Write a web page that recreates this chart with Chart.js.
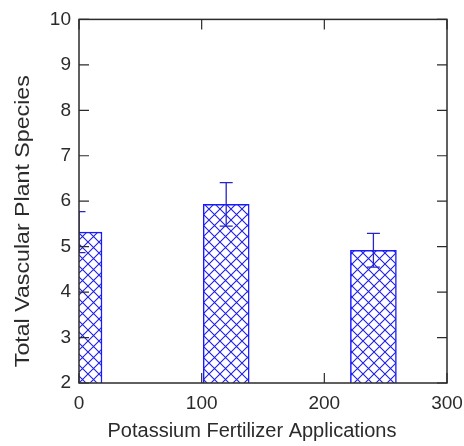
<!DOCTYPE html>
<html>
<head>
<meta charset="utf-8">
<script src="https://cdn.jsdelivr.net/npm/chart.js@4.4.1/dist/chart.umd.min.js"></script>
<style>
  html, body { margin: 0; padding: 0; background: #fff; }
  #wrap { width: 464px; height: 446px; }
</style>
</head>
<body>
<div id="wrap"><canvas id="chart" width="464" height="446"></canvas></div>
<script>
// potassium applications (x) vs species count, with std error
const applications = [0, 120, 240];
const species = [5.32, 5.93, 4.92];
const speciesErr = [0.45, 0.48, 0.37];

const xTitle = "Potassium Fertilizer Applications";
const yTitle = "Total Vascular Plant Species";

const BLUE = "#1a1aff";
const INK = "#2b2b2b";

// cross hatch fill for the bars
function hatch() {
  const c = document.createElement("canvas");
  c.width = 11;
  c.height = 11;
  const g = c.getContext("2d");
  g.fillStyle = "#fff";
  g.fillRect(0, 0, 11, 11);
  g.strokeStyle = "#2020e0";
  g.lineWidth = 1.1;
  g.beginPath();
  g.moveTo(-1, -1); g.lineTo(12, 12);
  g.moveTo(12, -1); g.lineTo(-1, 12);
  g.stroke();
  return g.createPattern(c, "repeat");
}

const frame = {
  id: "frame",
  afterDatasetsDraw(chart) {
    const ctx = chart.ctx;
    const a = chart.chartArea;
    const xs = chart.scales.x, ys = chart.scales.y;
    ctx.save();
    ctx.beginPath();
    ctx.rect(a.left, a.top, a.right - a.left, a.bottom - a.top);
    ctx.clip();
    // error bars
    ctx.strokeStyle = "#2525c8";
    ctx.lineWidth = 1.3;
    applications.forEach((v, i) => {
      const px = xs.getPixelForValue(v);
      const hi = ys.getPixelForValue(species[i] + speciesErr[i]);
      const lo = ys.getPixelForValue(species[i] - speciesErr[i]);
      ctx.beginPath();
      ctx.moveTo(px, hi); ctx.lineTo(px, lo);
      ctx.moveTo(px - 6.5, hi); ctx.lineTo(px + 6.5, hi);
      ctx.moveTo(px - 6.5, lo); ctx.lineTo(px + 6.5, lo);
      ctx.stroke();
    });
    ctx.restore();

    // box and inward ticks
    ctx.save();
    ctx.strokeStyle = INK;
    ctx.lineWidth = 1.5;
    ctx.strokeRect(a.left, a.top, a.right - a.left, a.bottom - a.top);
    ctx.lineWidth = 1.2;
    ctx.beginPath();
    ys.ticks.forEach((t) => {
      const py = ys.getPixelForValue(t.value);
      ctx.moveTo(a.left, py); ctx.lineTo(a.left + 10, py);
      ctx.moveTo(a.right, py); ctx.lineTo(a.right - 10, py);
    });
    xs.ticks.forEach((t) => {
      const px = xs.getPixelForValue(t.value);
      ctx.moveTo(px, a.bottom); ctx.lineTo(px, a.bottom - 10);
      ctx.moveTo(px, a.top); ctx.lineTo(px, a.top + 10);
    });
    ctx.stroke();

    // axis titles
    ctx.fillStyle = INK;
    ctx.font = "20px 'Liberation Sans', Arial, sans-serif";
    ctx.textAlign = "center";
    ctx.textBaseline = "alphabetic";
    ctx.fillText(xTitle, (a.left + a.right) / 2 - 11, 437);
    // y title runs a little longer than the x title
    ctx.translate(29, (a.top + a.bottom) / 2 + 20);
    ctx.rotate(-Math.PI / 2);
    ctx.scale(292 / ctx.measureText(yTitle).width, 1);
    ctx.fillText(yTitle, 0, 0);
    ctx.restore();
  }
};

Chart.defaults.font.family = "'Liberation Sans', Arial, sans-serif";
Chart.defaults.color = INK;

new Chart(document.getElementById("chart").getContext("2d"), {
  type: "bar",
  data: {
    datasets: [
      {
        data: applications.map((v, i) => ({ x: v, y: species[i] })),
        backgroundColor: hatch(),
        borderColor: BLUE,
        borderWidth: 1.5,
        borderSkipped: false,
        barThickness: 46,
      },
    ],
  },
  options: {
    responsive: false,
    animation: false,
    layout: { padding: { left: 0, top: 18, right: 17, bottom: 0 } },
    plugins: { legend: { display: false }, tooltip: { enabled: false } },
    scales: {
      x: {
        type: "linear",
        min: 0,
        max: 300,
        offset: false,
        grid: { display: false, drawTicks: false },
        border: { display: false },
        ticks: { stepSize: 100, padding: 9, font: { size: 19 }, maxRotation: 0 },
        afterFit: (s) => {
          s.height = 63;
          s.paddingLeft = 0;
          s.paddingRight = 0;
        },
      },
      y: {
        min: 2,
        max: 10,
        grid: { display: false, drawTicks: false },
        border: { display: false },
        ticks: { stepSize: 1, padding: 8, font: { size: 19 } },
        afterFit: (s) => { s.width = 79; },
      },
    },
  },
  plugins: [frame],
});
</script>
</body>
</html>
